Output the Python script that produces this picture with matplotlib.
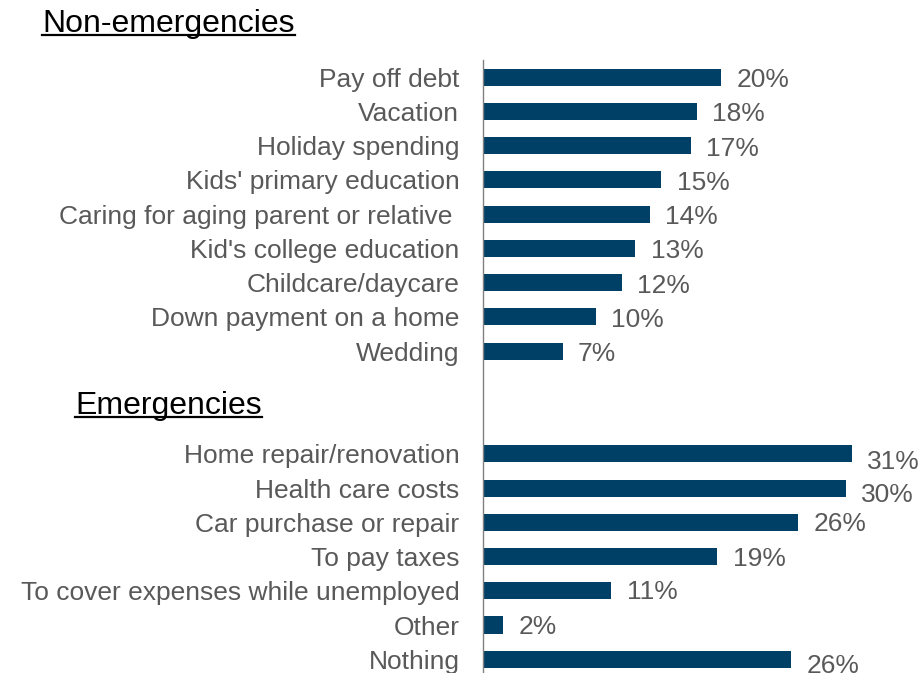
import matplotlib.pyplot as plt
from matplotlib.lines import Line2D

plt.rcParams['font.family'] = ['Liberation Sans', 'DejaVu Sans']

# data
non_emerg = ["Pay off debt", "Vacation", "Holiday spending", "Kids' primary education",
             "Caring for aging parent or relative ", "Kid's college education",
             "Childcare/daycare", "Down payment on a home", "Wedding"]
non_emerg_pct = [20, 18, 17, 15, 14, 13, 12, 10, 7]
non_emerg_bar = [20, 18, 17.5, 15, 14, 12.8, 11.7, 9.5, 6.7]

emerg = ["Home repair/renovation", "Health care costs", "Car purchase or repair",
         "To pay taxes", "To cover expenses while unemployed", "Other", "Nothing"]
emerg_pct = [31, 30, 26, 19, 11, 2, 26]
emerg_bar = [31, 30.5, 26.5, 19.7, 10.8, 1.7, 25.9]
# label nudges in pixels (downward) for the long bars, as in the original
emerg_dy = [6, 5, 0, 0, -1, 0, 5]

BAR = '#003F66'
GREY = '#595959'

labels = non_emerg + emerg
pct = non_emerg_pct + emerg_pct
vals = non_emerg_bar + emerg_bar
dys = [1] * len(non_emerg) + emerg_dy
ypos = list(range(len(non_emerg))) + [len(non_emerg) + 2 + i for i in range(len(emerg))]

fig = plt.figure(figsize=(9.22, 6.73), dpi=100)
ax = fig.add_axes([483 / 922, 0, 439 / 922, 1 - 60 / 673])

ax.barh(ypos, vals, height=0.5, color=BAR)
ax.set_ylim(17.4, -0.5)
ax.set_xlim(0, 36.9)

ax.set_yticks(ypos)
ax.set_yticklabels(labels, fontsize=19, color=GREY)
ax.tick_params(axis='y', length=0, pad=17)
ax.set_xticks([])
for s in ['top', 'right', 'bottom']:
    ax.spines[s].set_visible(False)
ax.spines['left'].set_color('#808080')
ax.spines['left'].set_linewidth(1)

px = 72 / 100
for y, v, p, d in zip(ypos, vals, pct, dys):
    ax.annotate(f'{p}%', (v, y), xytext=(11, -(d + 2) * px), textcoords='offset points',
                ha='left', va='center', fontsize=19, color=GREY, annotation_clip=False)

# section headings, underlined
heads = [("Non-emergencies", 42, 24), ("Emergencies", 75, 406)]
txts = []
for name, xp, yp in heads:
    t = fig.text(xp / 922, 1 - yp / 673, name, fontsize=23, color='black',
                 ha='left', va='center')
    txts.append(t)

fig.canvas.draw()
r = fig.canvas.get_renderer()
for t in txts:
    bb = t.get_window_extent(r)
    yb = bb.y0 + bb.height * 0.12
    fig.add_artist(Line2D([bb.x0 / 922, bb.x1 / 922], [yb / 673, yb / 673],
                          transform=fig.transFigure, color='black', lw=1.6))

fig.savefig('out.png', dpi=100)
